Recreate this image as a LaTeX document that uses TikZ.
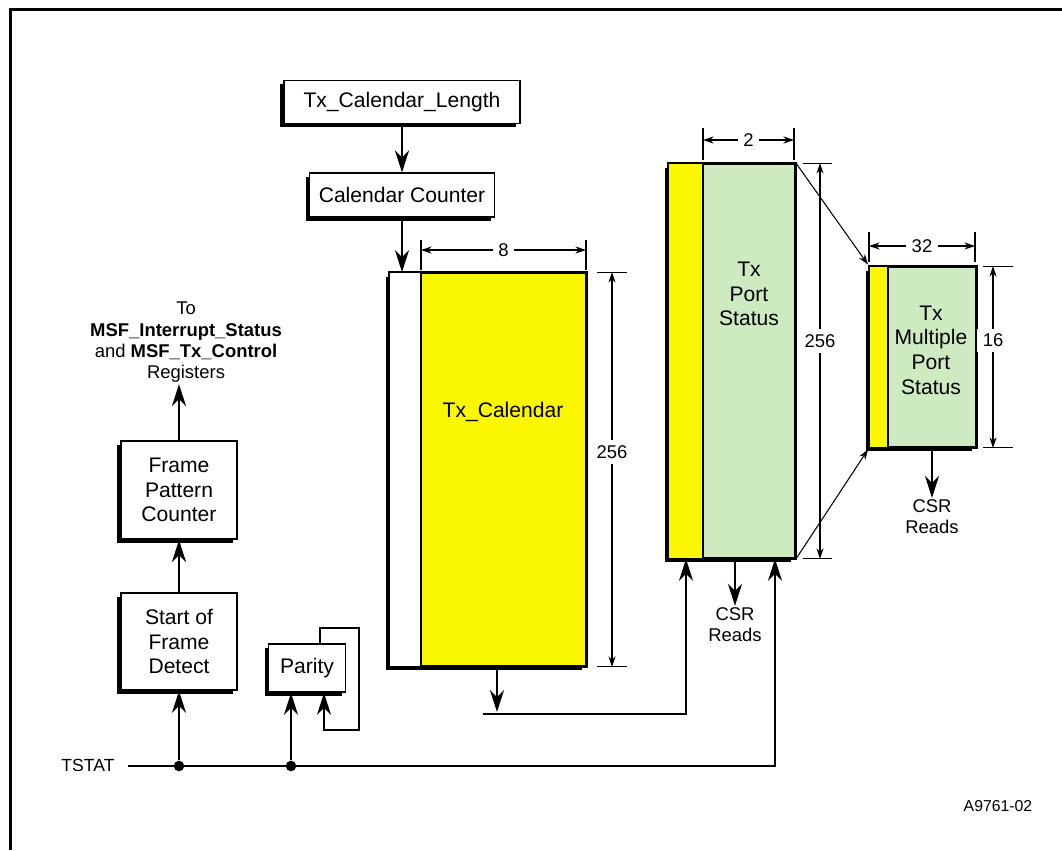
\documentclass[tikz,border=0pt]{standalone}
\usepackage{fontspec}
\setmainfont{Liberation Sans}
\usetikzlibrary{positioning,arrows.meta,shadows,calc}
\definecolor{CalYellow}{HTML}{FAF700}
\definecolor{PortGreen}{HTML}{CDEAC0}

\begin{document}
\begin{tikzpicture}[
  x=0.02cm, y=-0.02cm,
  node distance = 1.0cm,
  shbox/.style  = {draw, line width=1.1pt, fill=white, align=center, inner sep=0pt,
                   font=\fontsize{12}{14}\selectfont,
                   drop shadow={shadow xshift=-2.2pt, shadow yshift=-2.2pt, fill=black, opacity=1}},
  memblk/.style = {shbox, fill=#1},
  boxtxt/.style = {font=\fontsize{12}{14}\selectfont, align=center, inner sep=0pt},
  lbl/.style    = {font=\fontsize{10.5}{12}\selectfont, align=center, inner sep=1pt},
  arr/.style    = {-{Stealth[length=12.5pt, width=8pt, inset=4pt]}, line width=1.4pt},
  tarr/.style   = {-{Stealth[length=6pt, width=4pt]}, line width=0.6pt, shorten >=1pt},
  dim/.style    = {{Stealth[length=6pt, width=4pt]}-{Stealth[length=6pt, width=4pt]}, line width=0.6pt},
  tick/.style   = {line width=0.6pt},
  dot/.style    = {circle, fill, inner sep=0pt, minimum size=6pt}
]
  \useasboundingbox (0,0) rectangle (1062,850);
  % page frame
  \draw[line width=1.6pt] (10.5,850) -- (10.5,9.5) -- (1062,9.5);

  % Calendar length and counter
  \node[shbox, minimum width=4.72cm, minimum height=0.86cm] (len) at (402,102) {Tx\_Calendar\_Length};
  \node[shbox, minimum width=3.7cm, minimum height=0.88cm, below=0.96cm of len] (cnt) {Calendar Counter};

  % Tx_Calendar
  \node[memblk=CalYellow, minimum width=3.92cm, minimum height=7.86cm] (cal) at (488,469.5) {};
  \fill[white] (cal.north west) rectangle (421,0 |- cal.south);
  \draw[line width=1.1pt] (421,0 |- cal.north) -- (421,0 |- cal.south);
  \draw[line width=1.1pt] (cal.north west) rectangle (cal.south east);
  \node[boxtxt] (caltxt) at (503,412) {Tx\_Calendar};

  % Tx Port Status
  \node[memblk=PortGreen, minimum width=2.52cm, minimum height=7.88cm] (ps) at (732,361) {};
  \fill[CalYellow] (ps.north west) rectangle (703,0 |- ps.south);
  \draw[line width=1.1pt] (703,0 |- ps.north) -- (703,0 |- ps.south);
  \draw[line width=1.1pt] (ps.north west) rectangle (ps.south east);
  \node[boxtxt] (pstxt) at (749,294) {Tx\\Port\\Status};

  % Tx Multiple Port Status
  \node[memblk=PortGreen, minimum width=2.12cm, minimum height=3.6cm] (mps) at (923,357) {};
  \fill[CalYellow] (mps.north west) rectangle (888,0 |- mps.south);
  \draw[line width=1.1pt] (888,0 |- mps.north) -- (888,0 |- mps.south);
  \draw[line width=1.1pt] (mps.north west) rectangle (mps.south east);
  \node[boxtxt] (mpstxt) at (931,350) {Tx\\Multiple\\Port\\Status};

  % Dimensions
  \draw[tick] (421,240) -- (421,270);
  \draw[tick] (586,240) -- (586,270);
  \draw[dim] (421,250) -- node[lbl, fill=white, inner sep=3pt] {8} (586,250);
  \draw[tick] (597,0 |- cal.north) -- ++(30,0);
  \draw[tick] (597,0 |- cal.south) -- ++(30,0);
  \draw[dim] (612,0 |- cal.north) -- node[lbl, fill=white, inner sep=3pt, pos=0.455] {256} (612,0 |- cal.south);

  \draw[tick] (703,128) -- (703,160);
  \draw[tick] (794,128) -- (794,160);
  \draw[dim] (703,140) -- node[lbl, fill=white, inner sep=3pt] {2} (794,140);
  \draw[tick] (803,0 |- ps.north) -- ++(29,0);
  \draw[tick] (803,0 |- ps.south) -- ++(29,0);
  \draw[dim] (820,0 |- ps.north) -- node[lbl, fill=white, inner sep=3pt, pos=0.45] {256} (820,0 |- ps.south);

  \draw[tick] (869,232) -- (869,262);
  \draw[tick] (975,232) -- (975,262);
  \draw[dim] (869,246) -- node[lbl, fill=white, inner sep=3pt] {32} (975,246);
  \draw[tick] (983,0 |- mps.north) -- ++(30,0);
  \draw[tick] (983,0 |- mps.south) -- ++(30,0);
  \draw[dim] (993,0 |- mps.north) -- node[lbl, fill=white, inner sep=3pt, pos=0.41] {16} (993,0 |- mps.south);

  % Calendar flow
  \draw[arr] (len) -- (cnt);
  \draw[arr] (cnt.south) -- (cnt.south |- cal.north);
  \draw[tarr] (ps.north east) -- (mps.north west);
  \draw[tarr] (ps.south east) -- (mps.south west);

  % CSR reads
  \node[lbl] (csr1) at (735,625) {CSR\\Reads};
  \node[lbl] (csr2) at (932,517) {CSR\\Reads};
  \draw[arr] (ps.south -| csr1) -- (csr1.north);
  \draw[arr] (mps.south -| csr2) -- (csr2.north);

  % Calendar output to port status
  \coordinate (calout) at (497,712);
  \coordinate (jn) at (483,714);
  \draw[arr] (calout |- cal.south) -- (calout);
  \draw[arr] (jn) -| (686,0 |- ps.south);

  % Frame detect chain
  \node[shbox, minimum width=2.32cm, minimum height=1.94cm] (sof) at (179,641.5) {Start of\\Frame\\Detect};
  \node[shbox, minimum width=2.32cm, minimum height=1.96cm, above=1.04cm of sof] (fpc) {Frame\\Pattern\\Counter};
  \node[lbl, above=1.12cm of fpc, xshift=4pt] (regs) {To\\\textbf{MSF\_Interrupt\_Status}\\and \textbf{MSF\_Tx\_Control}\\Registers};
  \draw[arr] (sof) -- (fpc);
  \draw[arr] (fpc) -- (fpc.north |- regs.south);

  % Parity
  \node[shbox, minimum width=1.54cm, minimum height=0.96cm] (par) at (307,668) {Parity};
  \draw[arr] (320,0 |- par.north) -- (320,628) -- (359,628) -- (359,730) -- (324,730) -- (324,0 |- par.south);

  % TSTAT bus
  \node[lbl, font=\fontsize{10}{12}\selectfont] (tstat) at (88,765) {TSTAT};
  \coordinate (bus) at (128,766);
  \coordinate (pin) at (291,766);
  \draw[arr] (bus) -| (775,0 |- ps.south);
  \node[dot] (d1) at (sof.south |- bus) {};
  \node[dot] (d2) at (pin) {};
  \draw[arr] (d1) -- (sof.south);
  \draw[arr] (d2) -- (pin |- par.south);

  \node[lbl, font=\fontsize{9}{11}\selectfont] (fig) at (998,806) {A9761-02};
\end{tikzpicture}
\end{document}
